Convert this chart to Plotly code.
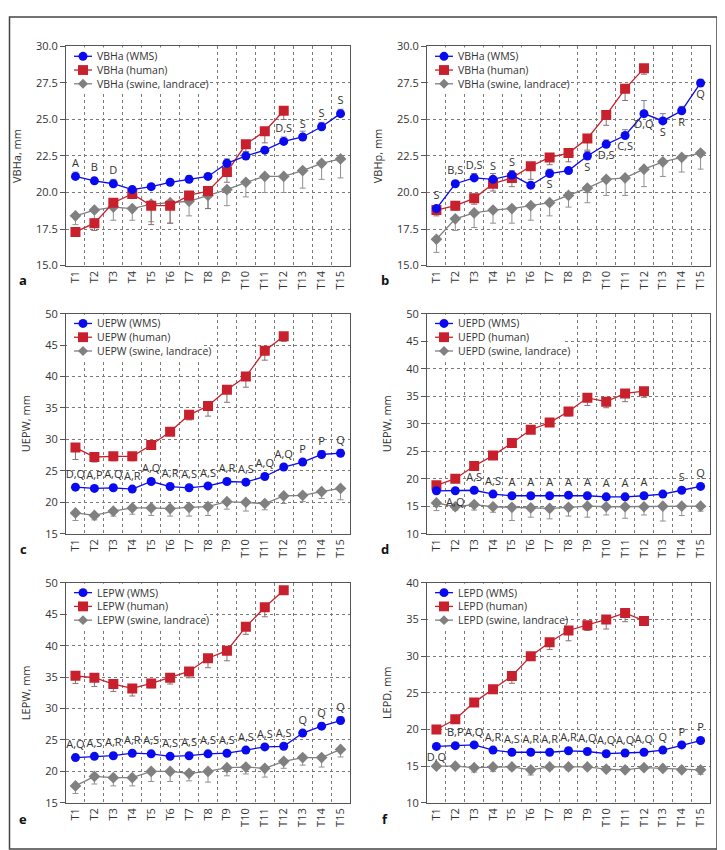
import plotly.graph_objects as go

categories = [f"T{i}" for i in range(1, 16)]
xpos = list(range(1, 16))

# ---------- panel a : VBHa ----------
a_wms = [21.1, 20.8, 20.6, 20.2, 20.4, 20.7, 20.9, 21.1, 22.0, 22.5, 22.9, 23.5, 23.8, 24.5, 25.4]
a_wms_err = [0.3, 0.2, 0.3, 0.2, 0.15, 0.15, 0.25, 0.2, 0.3, 0.3, 0.2, 0.3, 0.4, 0.3, 0.3]
a_wms_lbl = ["A", "B", "D", "", "", "", "", "", "", "", "", "D,S", "S", "S", "S"]
a_wms_pos = ["top center"] * 15
a_hum = [17.3, 17.9, 19.3, 19.9, 19.1, 19.1, 19.8, 20.1, 21.4, 23.3, 24.2, 25.6]
a_hum_err = [0.3, 0.5, 0.3, 0.3, 1.3, 1.2, 0.4, 1.2, 0.7, 0.5, 0.8, 0.6]
a_sw = [18.4, 18.8, 19.0, 18.9, 19.2, 19.3, 19.4, 19.8, 20.2, 20.7, 21.1, 21.1, 21.5, 22.0, 22.3]
a_sw_err = [0.6, 0.6, 0.9, 0.8, 1.2, 1.4, 1.0, 0.9, 1.1, 1.0, 1.1, 1.1, 1.2, 1.1, 1.3]

# ---------- panel b : VBHp ----------
b_wms = [18.9, 20.6, 21.0, 20.9, 21.2, 20.5, 21.3, 21.5, 22.5, 23.3, 23.9, 25.4, 24.9, 25.6, 27.5]
b_wms_err = [0.2, 0.2, 0.3, 0.4, 0.3, 0.1, 0.3, 0.2, 0.3, 0.3, 0.4, 0.9, 0.5, 0.3, 0.2]
b_wms_lbl = ["S", "B,S", "D,S", "S", "S", "", "S", "", "S", "D,S", "C,S", "D,Q", "S", "R", "Q"]
b_wms_pos = ["top center"] * 5 + ["top center", "bottom center", "top center"] + ["bottom center"] * 7
b_hum = [18.8, 19.1, 19.6, 20.6, 21.0, 21.8, 22.4, 22.7, 23.7, 25.3, 27.1, 28.5]
b_hum_err = [0.4, 0.3, 0.4, 0.5, 0.6, 0.9, 0.5, 0.6, 0.8, 0.7, 0.8, 0.4]
b_sw = [16.8, 18.2, 18.6, 18.8, 18.9, 19.1, 19.3, 19.8, 20.3, 20.9, 21.0, 21.6, 22.1, 22.4, 22.7]
b_sw_err = [0.9, 0.8, 1.0, 0.9, 1.0, 1.0, 0.9, 0.8, 1.0, 1.1, 1.2, 1.2, 1.0, 1.0, 1.1]

# ---------- panel c : UEPW ----------
c_wms = [22.4, 22.2, 22.3, 22.1, 23.3, 22.5, 22.3, 22.6, 23.3, 23.2, 24.1, 25.6, 26.4, 27.6, 27.8]
c_wms_err = [0.4, 0.3, 0.3, 0.3, 0.4, 0.3, 0.3, 0.3, 0.4, 0.4, 0.4, 0.4, 0.4, 0.6, 0.6]
c_wms_lbl = ["D,Q", "A,P", "A,Q", "A,R", "A,Q", "A,R", "A,S", "A,S", "A,R", "A,S", "A,Q", "A,Q", "P", "P", "Q"]
c_wms_pos = ["top center"] * 15
c_hum = [28.7, 27.2, 27.3, 27.3, 29.1, 31.2, 33.9, 35.3, 37.9, 40.0, 44.1, 46.4]
c_hum_err = [1.9, 0.8, 0.7, 0.7, 0.5, 0.5, 0.8, 1.6, 2.0, 1.7, 1.5, 0.8]
c_sw = [18.3, 17.9, 18.6, 19.1, 19.1, 19.0, 19.2, 19.3, 20.1, 20.0, 19.8, 21.0, 21.1, 21.7, 22.2]
c_sw_err = [1.2, 0.7, 0.8, 1.0, 1.2, 1.2, 1.4, 1.4, 1.2, 1.4, 1.0, 1.2, 1.0, 1.1, 1.8]

# ---------- panel d : UEPD ----------
d_wms = [17.8, 17.8, 17.9, 17.2, 16.9, 16.9, 16.9, 17.0, 16.9, 16.7, 16.7, 16.9, 17.2, 17.9, 18.6]
d_wms_err = [0.3, 0.2, 0.3, 0.2, 0.2, 0.2, 0.2, 0.2, 0.2, 0.2, 0.2, 0.2, 0.2, 0.3, 0.3]
d_wms_lbl = ["", "A,Q", "A,S", "A,S", "A", "A", "A", "A", "A", "A", "A", "A", "", "S", "Q"]
d_wms_pos = ["top center", "bottom center"] + ["top center"] * 13
d_hum = [18.8, 20.0, 22.3, 24.2, 26.5, 28.9, 30.2, 32.2, 34.7, 34.0, 35.5, 35.9]
d_hum_err = [0.5, 0.4, 0.3, 0.3, 0.3, 0.3, 0.5, 0.8, 1.4, 1.1, 1.5, 1.1]
d_sw = [15.6, 14.9, 15.3, 14.9, 14.8, 14.7, 14.6, 14.8, 15.0, 14.9, 14.9, 14.9, 15.0, 15.0, 15.0]
d_sw_err = [1.4, 0.6, 1.0, 1.0, 2.4, 1.7, 1.9, 1.6, 2.0, 1.5, 2.1, 1.5, 2.7, 1.7, 0.9]

# ---------- panel e : LEPW ----------
e_wms = [22.2, 22.4, 22.5, 22.9, 22.8, 22.4, 22.5, 22.8, 22.9, 23.4, 23.9, 24.0, 26.1, 27.2, 28.1]
e_wms_err = [0.4, 0.3, 0.3, 0.3, 0.3, 0.3, 0.3, 0.3, 0.3, 0.3, 0.3, 0.3, 0.4, 0.5, 0.6]
e_wms_lbl = ["A,Q", "A,S", "A,R", "A,R", "A,S", "A,S", "A,S", "A,S", "A,S", "A,S", "A,S", "A,S", "Q", "Q", "Q"]
e_wms_pos = ["top center"] * 15
e_hum = [35.2, 34.9, 33.9, 33.2, 34.0, 34.9, 35.9, 38.0, 39.2, 43.0, 46.1, 48.8]
e_hum_err = [1.2, 1.4, 1.2, 1.2, 0.7, 1.0, 1.0, 1.5, 1.6, 1.2, 1.5, 0.5]
e_sw = [17.7, 19.2, 19.0, 19.0, 20.0, 20.0, 19.7, 20.0, 20.6, 20.7, 20.5, 21.6, 22.2, 22.2, 23.5]
e_sw_err = [1.2, 1.2, 1.3, 1.3, 1.6, 1.6, 1.2, 1.7, 1.3, 1.1, 1.4, 1.1, 1.2, 1.5, 1.2]

# ---------- panel f : LEPD ----------
f_wms = [17.7, 17.8, 17.9, 17.2, 16.9, 16.9, 16.9, 17.1, 17.0, 16.7, 16.8, 16.9, 17.2, 17.9, 18.5]
f_wms_err = [0.2, 0.2, 0.2, 0.2, 0.2, 0.2, 0.2, 0.2, 0.2, 0.2, 0.2, 0.2, 0.2, 0.2, 0.2]
f_wms_lbl = ["D,Q", "B,P", "A,Q", "A,R", "A,S", "A,R", "A,R", "A,R", "A,Q", "A,Q", "A,Q", "A,Q", "Q", "P", "P"]
f_wms_pos = ["bottom center"] + ["top center"] * 14
f_hum = [20.0, 21.4, 23.7, 25.5, 27.3, 30.0, 31.9, 33.5, 34.2, 35.0, 35.9, 34.8]
f_hum_err = [0.5, 0.5, 0.4, 0.6, 1.0, 0.6, 1.0, 1.4, 0.7, 1.3, 1.2, 0.6]
f_sw = [15.0, 15.0, 14.8, 14.9, 14.9, 14.5, 14.9, 14.9, 14.9, 14.6, 14.5, 14.8, 14.7, 14.5, 14.5]
f_sw_err = [0.3, 0.3, 0.6, 0.6, 0.4, 0.7, 0.3, 0.4, 0.3, 0.3, 0.3, 0.3, 0.3, 0.3, 0.6]

panels = [
    dict(name="VBHa", ytitle="VBHa, mm", yr=[15, 30], dt=2.5, fmt=".1f", letter="a",
         wms=a_wms, wms_err=a_wms_err, lbl=a_wms_lbl, pos=a_wms_pos,
         hum=a_hum, hum_err=a_hum_err, sw=a_sw, sw_err=a_sw_err),
    dict(name="VBHa", ytitle="VBHp, mm", yr=[15, 30], dt=2.5, fmt=".1f", letter="b",
         wms=b_wms, wms_err=b_wms_err, lbl=b_wms_lbl, pos=b_wms_pos,
         hum=b_hum, hum_err=b_hum_err, sw=b_sw, sw_err=b_sw_err),
    dict(name="UEPW", ytitle="UEPW, mm", yr=[15, 50], dt=5, fmt="d", letter="c",
         wms=c_wms, wms_err=c_wms_err, lbl=c_wms_lbl, pos=c_wms_pos,
         hum=c_hum, hum_err=c_hum_err, sw=c_sw, sw_err=c_sw_err),
    dict(name="UEPD", ytitle="UEPW, mm", yr=[10, 50], dt=5, fmt="d", letter="d",
         wms=d_wms, wms_err=d_wms_err, lbl=d_wms_lbl, pos=d_wms_pos,
         hum=d_hum, hum_err=d_hum_err, sw=d_sw, sw_err=d_sw_err),
    dict(name="LEPW", ytitle="LEPW, mm", yr=[15, 50], dt=5, fmt="d", letter="e",
         wms=e_wms, wms_err=e_wms_err, lbl=e_wms_lbl, pos=e_wms_pos,
         hum=e_hum, hum_err=e_hum_err, sw=e_sw, sw_err=e_sw_err),
    dict(name="LEPD", ytitle="LEPD, mm", yr=[10, 40], dt=5, fmt="d", letter="f",
         wms=f_wms, wms_err=f_wms_err, lbl=f_wms_lbl, pos=f_wms_pos,
         hum=f_hum, hum_err=f_hum_err, sw=f_sw, sw_err=f_sw_err),
]

W, H = 725, 850
col_x = [(58, 342), (419, 702)]
row_y = [(31, 254), (303, 527), (577, 801)]
letter_px = [(15, 269), (377, 269), (15, 543), (377, 543), (15, 817), (377, 817)]

BLUE = "#0a0af0"
RED = "#c8202c"
GRAY = "#808080"
FONT = "Open Sans, Noto Sans, sans-serif"
TXT = "#333333"


def px(x):
    return x / W


def py(y):
    return 1 - y / H


fig = go.Figure()
layout = dict(width=W, height=H, margin=dict(l=0, r=0, t=0, b=0),
              paper_bgcolor="white", plot_bgcolor="white",
              font=dict(family=FONT, size=11, color=TXT), showlegend=False)
annotations = []
shapes = []

for i, p in enumerate(panels):
    k = i + 1
    xa = "x" if k == 1 else f"x{k}"
    ya = "y" if k == 1 else f"y{k}"
    c, r = i % 2, i // 2
    X0, X1 = col_x[c]
    Y0, Y1 = row_y[r]
    x0, x1 = px(X0), px(X1)
    y0, y1 = py(Y1), py(Y0)
    nh = len(p["hum"])

    fig.add_trace(go.Scatter(
        x=xpos, y=p["sw"], name=f"{p['name']} (swine, landrace)", xaxis=xa, yaxis=ya,
        mode="lines+markers",
        line=dict(color=GRAY, width=1.3),
        marker=dict(symbol="diamond", size=9, color=GRAY),
        error_y=dict(type="data", symmetric=False, array=[0] * 15, arrayminus=p["sw_err"],
                     color="#909090", thickness=1, width=3)))
    fig.add_trace(go.Scatter(
        x=xpos[:nh], y=p["hum"], name=f"{p['name']} (human)", xaxis=xa, yaxis=ya,
        mode="lines+markers",
        line=dict(color=RED, width=1.3),
        marker=dict(symbol="square", size=10, color=RED),
        error_y=dict(type="data", symmetric=False, array=[0] * nh, arrayminus=p["hum_err"],
                     color="#8a7070", thickness=1, width=3)))
    fig.add_trace(go.Scatter(
        x=xpos, y=p["wms"], name=f"{p['name']} (WMS)", xaxis=xa, yaxis=ya,
        mode="lines+markers+text",
        text=p["lbl"], textposition=p["pos"],
        textfont=dict(family=FONT, size=11, color=TXT),
        line=dict(color=BLUE, width=1.3),
        marker=dict(symbol="circle", size=9, color=BLUE),
        error_y=dict(type="data", symmetric=False, array=p["wms_err"], arrayminus=[0] * 15,
                     color="#7f7fa0", thickness=1, width=3)))

    layout["xaxis" if k == 1 else f"xaxis{k}"] = dict(
        domain=[x0, x1], anchor=ya, range=[0.5, 15.5],
        tickmode="array", tickvals=xpos, ticktext=categories, tickangle=-90,
        showgrid=False, zeroline=False, showline=True, mirror=True,
        linecolor="#555555", linewidth=1, ticks="",
        tickfont=dict(size=11, color=TXT),
        minor=dict(tickmode="linear", tick0=0.5, dtick=1, showgrid=True,
                   gridcolor="#7a7a7a", griddash="dot", gridwidth=1))
    layout["yaxis" if k == 1 else f"yaxis{k}"] = dict(
        domain=[y0, y1], anchor=xa, range=p["yr"], dtick=p["dt"], tick0=p["yr"][0],
        tickformat=p["fmt"], showgrid=True, gridcolor="#7a7a7a", griddash="dot", gridwidth=1,
        zeroline=False, showline=True, mirror=True, linecolor="#555555", linewidth=1,
        ticks="outside", ticklen=5, tickcolor="#555555",
        tickfont=dict(size=11, color=TXT),
        title=dict(text=p["ytitle"], font=dict(size=11, color=TXT), standoff=12))

    # compact legend box (drawn as shapes + text, top-left inside the plot)
    shapes.append(dict(type="rect", xref="paper", yref="paper", layer="above",
                       x0=px(X0 + 1), x1=px(X0 + 137), y0=py(Y0 + 46), y1=py(Y0 + 1),
                       fillcolor="white", line=dict(width=0)))
    entries = [(f"{p['name']} (WMS)", BLUE, "circle"),
               (f"{p['name']} (human)", RED, "square"),
               (f"{p['name']} (swine, landrace)", GRAY, "diamond")]
    for j, (label, col, sym) in enumerate(entries):
        ey = Y0 + 10 + j * 14
        cx = X0 + 17
        shapes.append(dict(type="line", xref="paper", yref="paper", layer="above",
                           x0=px(X0 + 8), x1=px(X0 + 26), y0=py(ey), y1=py(ey),
                           line=dict(color=col, width=1.3)))
        if sym == "circle":
            shapes.append(dict(type="circle", xref="paper", yref="paper", layer="above",
                               x0=px(cx - 4.5), x1=px(cx + 4.5), y0=py(ey + 4.5), y1=py(ey - 4.5),
                               fillcolor=col, line=dict(color=col, width=0)))
        elif sym == "square":
            shapes.append(dict(type="rect", xref="paper", yref="paper", layer="above",
                               x0=px(cx - 5), x1=px(cx + 5), y0=py(ey + 5), y1=py(ey - 5),
                               fillcolor=col, line=dict(color=col, width=0)))
        else:
            path = (f"M {px(cx - 5)} {py(ey)} L {px(cx)} {py(ey - 5)} "
                    f"L {px(cx + 5)} {py(ey)} L {px(cx)} {py(ey + 5)} Z")
            shapes.append(dict(type="path", xref="paper", yref="paper", layer="above",
                               path=path, fillcolor=col, line=dict(color=col, width=0)))
        annotations.append(dict(text=label, x=px(X0 + 30), y=py(ey), xref="paper", yref="paper",
                                showarrow=False, xanchor="left", yanchor="middle", borderpad=0,
                                font=dict(size=10.5, color=TXT)))

    lx, ly = letter_px[i]
    annotations.append(dict(text=f"<b>{p['letter']}</b>", x=px(lx), y=py(ly),
                            xref="paper", yref="paper", showarrow=False,
                            font=dict(size=13, color="#111111"), xanchor="center", yanchor="middle"))

annotations.append(dict(text="Color version available online", x=px(720), y=py(4),
                        xref="paper", yref="paper", showarrow=False, textangle=-90, borderpad=0,
                        font=dict(size=7.5, color="#777777"), xanchor="right", yanchor="top"))
layout["annotations"] = annotations
shapes.append(dict(type="rect", xref="paper", yref="paper", x0=px(1.5), x1=px(709),
                   y0=py(848), y1=py(1), line=dict(color="#444444", width=1.5)))
layout["shapes"] = shapes

fig.update_layout(**layout)
fig.write_html("out.html")
